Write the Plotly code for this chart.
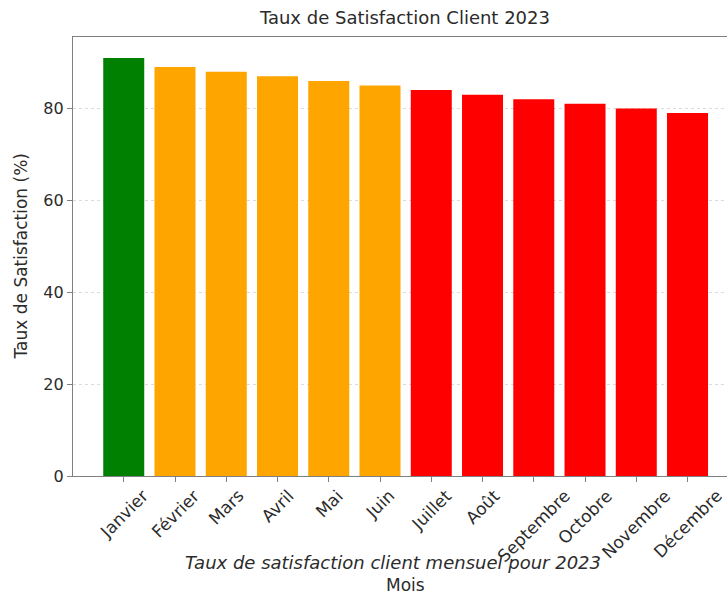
import plotly.graph_objects as go

# Monthly customer satisfaction, 2023
mois = ["Janvier", "Février", "Mars", "Avril", "Mai", "Juin",
        "Juillet", "Août", "Septembre", "Octobre", "Novembre", "Décembre"]
satisfaction = [91, 89, 88, 87, 86, 85, 84, 83, 82, 81, 80, 79]
couleurs = ["green", "orange", "orange", "orange", "orange", "orange",
            "red", "red", "red", "red", "red", "red"]
y_ticks = [0, 20, 40, 60, 80]

FONT = "DejaVu Sans"
TXT = "#2b2b2b"
AXIS = "#808080"

x_pos = list(range(len(mois)))

fig = go.Figure(
    go.Bar(
        x=x_pos,
        y=satisfaction,
        marker=dict(color=couleurs, line=dict(width=0)),
        hoverinfo="skip",
    )
)

# Rotated month labels, centred under each tick
annotations = []
for xi, name in zip(x_pos, mois):
    annotations.append(dict(
        x=xi, y=0, xref="x", yref="paper", text=name, showarrow=False,
        textangle=-45, xanchor="center", yanchor="top", yshift=-7,
        font=dict(family=FONT, size=17, color=TXT),
    ))

annotations += [
    dict(text="<i>Taux de satisfaction client mensuel pour 2023</i>",
         x=0.49, y=0, xref="paper", yref="paper", yshift=-86,
         xanchor="center", yanchor="middle", showarrow=False,
         font=dict(family=FONT, size=18, color=TXT)),
    dict(text="Mois", x=0.508, y=0, xref="paper", yref="paper", yshift=-121,
         xanchor="center", yanchor="bottom", showarrow=False,
         font=dict(family=FONT, size=17, color=TXT)),
    dict(text="Taux de Satisfaction (%)", x=0, y=0.5, xref="paper",
         yref="paper", xshift=-53, textangle=-90, xanchor="center",
         yanchor="middle", showarrow=False,
         font=dict(family=FONT, size=17, color=TXT)),
]

fig.update_layout(
    width=727,
    height=598,
    margin=dict(l=73, r=0, t=37, b=122),
    paper_bgcolor="white",
    plot_bgcolor="white",
    bargap=0.2,
    showlegend=False,
    font=dict(family=FONT, size=14, color=TXT),
    title=dict(text="Taux de Satisfaction Client 2023", x=0.557, xref="container",
               xanchor="center", y=1 - 18 / 598, yref="container", yanchor="middle",
               font=dict(family=FONT, size=18, color=TXT)),
    annotations=annotations,
)

fig.update_xaxes(
    range=[-0.99, 11.77],
    tickmode="array", tickvals=x_pos, ticktext=[""] * len(mois),
    ticks="outside", ticklen=5, tickcolor=AXIS, tickwidth=1,
    showline=True, linecolor=AXIS, linewidth=1.3, mirror=True,
    showgrid=False, zeroline=False,
)

fig.update_yaxes(
    range=[0, 95.55],
    tickmode="array", tickvals=y_ticks,
    ticks="outside", ticklen=5, tickcolor=AXIS, tickwidth=1,
    tickfont=dict(family=FONT, size=16, color=TXT),
    showline=True, linecolor=AXIS, linewidth=1.3, mirror=False,
    showgrid=True, gridcolor="#dcdcdc", griddash="dot", gridwidth=1,
    zeroline=False,
)

fig.write_html("out.html")
